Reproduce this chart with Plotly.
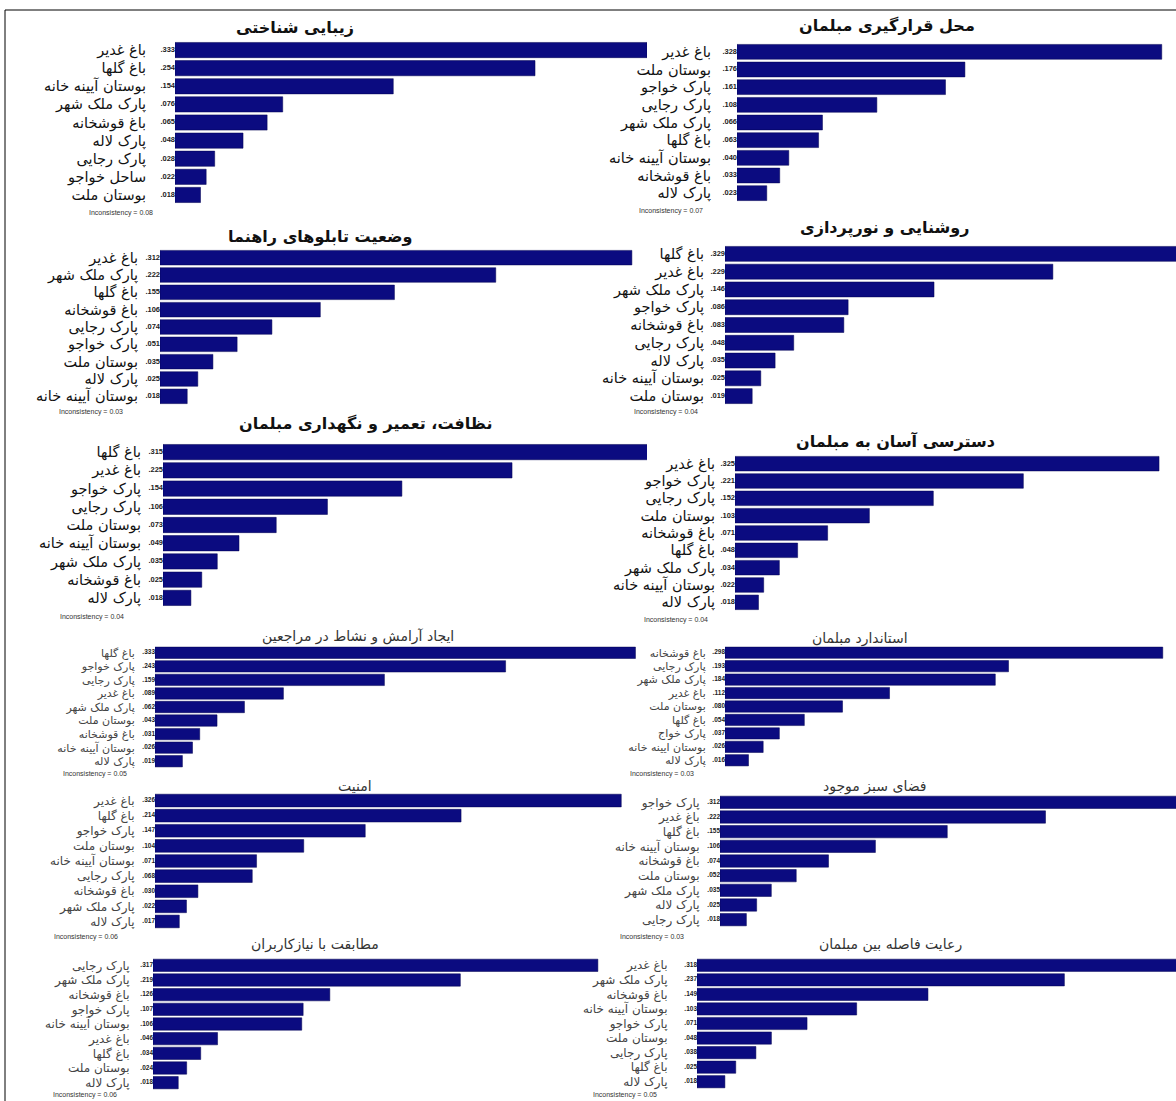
import plotly.graph_objects as go

W, H = 1176, 1101

titles = [
    "زیبایی شناختی", "محل قرارگیری مبلمان",
    "وضعیت تابلوهای راهنما", "روشنایی و نورپردازی",
    "نظافت، تعمیر و نگهداری مبلمان", "دسترسی آسان به مبلمان",
    "ایجاد آرامش و نشاط در مراجعین", "استاندارد مبلمان",
    "امنیت", "فضای سبز موجود",
    "مطابقت با نیازکاربران", "رعایت فاصله بین مبلمان",
]

cats_1 = ["باغ غدیر", "باغ گلها", "بوستان آیینه خانه", "پارک ملک شهر", "باغ قوشخانه", "پارک لاله", "پارک رجایی", "ساحل خواجو", "بوستان ملت"]
vals_1 = [0.333, 0.254, 0.154, 0.076, 0.065, 0.048, 0.028, 0.022, 0.018]

cats_2 = ["باغ غدیر", "بوستان ملت", "پارک خواجو", "پارک رجایی", "پارک ملک شهر", "باغ گلها", "بوستان آیینه خانه", "باغ قوشخانه", "پارک لاله"]
vals_2 = [0.328, 0.176, 0.161, 0.108, 0.066, 0.063, 0.040, 0.033, 0.023]

cats_3 = ["باغ غدیر", "پارک ملک شهر", "باغ گلها", "باغ قوشخانه", "پارک رجایی", "پارک خواجو", "بوستان ملت", "پارک لاله", "بوستان آیینه خانه"]
vals_3 = [0.312, 0.222, 0.155, 0.106, 0.074, 0.051, 0.035, 0.025, 0.018]

cats_4 = ["باغ گلها", "باغ غدیر", "پارک ملک شهر", "پارک خواجو", "باغ قوشخانه", "پارک رجایی", "پارک لاله", "بوستان آیینه خانه", "بوستان ملت"]
vals_4 = [0.329, 0.229, 0.146, 0.086, 0.083, 0.048, 0.035, 0.025, 0.019]

cats_5 = ["باغ گلها", "باغ غدیر", "پارک خواجو", "پارک رجایی", "بوستان ملت", "بوستان آیینه خانه", "پارک ملک شهر", "باغ قوشخانه", "پارک لاله"]
vals_5 = [0.315, 0.225, 0.154, 0.106, 0.073, 0.049, 0.035, 0.025, 0.018]

cats_6 = ["باغ غدیر", "پارک خواجو", "پارک رجایی", "بوستان ملت", "باغ قوشخانه", "باغ گلها", "پارک ملک شهر", "بوستان آیینه خانه", "پارک لاله"]
vals_6 = [0.325, 0.221, 0.152, 0.103, 0.071, 0.048, 0.034, 0.022, 0.018]

cats_7 = ["باغ گلها", "پارک خواجو", "پارک رجایی", "باغ غدیر", "پارک ملک شهر", "بوستان ملت", "باغ قوشخانه", "بوستان آیینه خانه", "پارک لاله"]
vals_7 = [0.333, 0.243, 0.159, 0.089, 0.062, 0.043, 0.031, 0.026, 0.019]

cats_8 = ["باغ قوشخانه", "پارک رجایی", "پارک ملک شهر", "باغ غدیر", "بوستان ملت", "باغ گلها", "پارک خواج", "بوستان ایینه خانه", "پارک لاله"]
vals_8 = [0.298, 0.193, 0.184, 0.112, 0.080, 0.054, 0.037, 0.026, 0.016]

cats_9 = ["باغ غدیر", "باغ گلها", "پارک خواجو", "بوستان ملت", "بوستان آیینه خانه", "پارک رجایی", "باغ قوشخانه", "پارک ملک شهر", "پارک لاله"]
vals_9 = [0.326, 0.214, 0.147, 0.104, 0.071, 0.068, 0.030, 0.022, 0.017]

cats_10 = ["پارک خواجو", "باغ غدیر", "باغ گلها", "بوستان آیینه خانه", "باغ قوشخانه", "بوستان ملت", "پارک ملک شهر", "پارک لاله", "پارک رجایی"]
vals_10 = [0.312, 0.222, 0.155, 0.106, 0.074, 0.052, 0.035, 0.025, 0.018]

cats_11 = ["پارک رجایی", "پارک ملک شهر", "باغ قوشخانه", "پارک خواجو", "بوستان آیینه خانه", "باغ غدیر", "باغ گلها", "بوستان ملت", "پارک لاله"]
vals_11 = [0.317, 0.219, 0.126, 0.107, 0.106, 0.046, 0.034, 0.024, 0.018]

cats_12 = ["باغ غدیر", "پارک ملک شهر", "باغ قوشخانه", "بوستان آیینه خانه", "پارک خواجو", "بوستان ملت", "پارک رجایی", "باغ گلها", "پارک لاله"]
vals_12 = [0.318, 0.237, 0.149, 0.103, 0.071, 0.048, 0.038, 0.025, 0.018]

inconsistency = [0.08, 0.07, 0.03, 0.04, 0.04, 0.04, 0.05, 0.03, 0.06, 0.03, 0.06, 0.05]

all_cats = [cats_1, cats_2, cats_3, cats_4, cats_5, cats_6, cats_7, cats_8, cats_9, cats_10, cats_11, cats_12]
all_vals = [vals_1, vals_2, vals_3, vals_4, vals_5, vals_6, vals_7, vals_8, vals_9, vals_10, vals_11, vals_12]

# layout geometry in pixels: x0, x1, y_top, y_bottom, x_max, title_x, title_y, inc_x, inc_y, label_gap, label_size
geom = [
    (175, 647, 41, 204, 0.333, 295, 27, 121, 213, 25, 14.5),
    (737, 1176, 43, 202, 0.339, 887, 25, 671, 211, 22, 14.5),
    (160, 647, 249, 405, 0.322, 320, 236, 91, 412, 18, 14.5),
    (725, 1176, 245, 405, 0.315, 885, 228, 666, 412, 17, 14.5),
    (163, 647, 443, 607, 0.312, 365, 423, 92, 617, 18, 14.5),
    (735, 1176, 455, 611, 0.338, 895, 441, 676, 620, 16, 14.5),
    (155, 647, 646, 768, 0.341, 358, 636, 95, 774, 17, 11),
    (725, 1176, 646, 767, 0.307, 860, 638, 662, 774, 16, 11),
    (155, 647, 793, 929, 0.344, 355, 786, 86, 937, 17, 12),
    (720, 1176, 795, 927, 0.311, 875, 786, 652, 937, 17, 12),
    (153, 647, 958, 1090, 0.352, 315, 944, 85, 1095, 20, 12),
    (697, 1176, 958, 1089, 0.309, 890, 944, 625, 1095, 26, 12),
]

BAR = "#0b0b80"
FONT = "DejaVu Sans"
NARROW = "Liberation Sans Narrow, Liberation Sans"

fig = go.Figure()
annotations = []
layout_axes = {}

for i, (cats, vals) in enumerate(zip(all_cats, all_vals)):
    x0, x1, yt, yb, xmax, tx, ty, ix, iy, gap, lsize = geom[i]
    big = i < 6
    n = i + 1
    xa = "x" if n == 1 else f"x{n}"
    ya = "y" if n == 1 else f"y{n}"
    fig.add_trace(go.Bar(
        x=vals, y=cats, orientation="h", xaxis=xa, yaxis=ya,
        marker=dict(color=BAR, line=dict(color="#000050", width=0.5)),
        showlegend=False, hoverinfo="x+y",
    ))
    fig.add_trace(go.Scatter(
        x=[0] * len(vals), y=cats, mode="text", xaxis=xa, yaxis=ya,
        text=["<b>%s</b>" % ("%.3f" % v).lstrip("0") for v in vals],
        textposition="middle left",
        textfont=dict(family=NARROW, size=7.5 if big else 6.5, color="#222"),
        cliponaxis=False, showlegend=False, hoverinfo="skip",
    ))
    xkey = "xaxis" if n == 1 else f"xaxis{n}"
    ykey = "yaxis" if n == 1 else f"yaxis{n}"
    layout_axes[xkey] = dict(
        domain=[x0 / W, x1 / W], range=[0, xmax], anchor=ya,
        visible=False, fixedrange=True,
    )
    layout_axes[ykey] = dict(
        domain=[1 - yb / H, 1 - yt / H], anchor=xa, autorange="reversed",
        showgrid=False, zeroline=False, showline=False,
        tickmode="array", tickvals=cats, ticktext=cats,
        ticks="outside", ticklen=gap, tickcolor="rgba(0,0,0,0)",
        tickfont=dict(family=FONT, size=lsize, color="#111" if big else "#444"),
        fixedrange=True,
    )
    annotations.append(dict(
        text=("<b>%s</b>" % titles[i]) if big else titles[i],
        x=tx / W, y=1 - ty / H, xref="paper", yref="paper",
        xanchor="center", yanchor="middle", showarrow=False,
        font=dict(family=FONT, size=16 if big else 14, color="#111" if big else "#333"),
    ))
    annotations.append(dict(
        text="Inconsistency = %.2f" % inconsistency[i],
        x=ix / W, y=1 - iy / H, xref="paper", yref="paper",
        xanchor="center", yanchor="middle", showarrow=False,
        font=dict(family=NARROW, size=7, color="#333"),
    ))

fig.update_layout(
    width=W, height=H, margin=dict(l=0, r=0, t=0, b=0),
    paper_bgcolor="white", plot_bgcolor="white",
    bargap=0.16, annotations=annotations,
    shapes=[dict(type="rect", xref="paper", yref="paper",
                 x0=5 / W, x1=1.02, y0=-0.02, y1=1 - 10 / H,
                 line=dict(color="black", width=1))],
    **layout_axes,
)

fig.write_html("out.html", config={"displayModeBar": False},
               post_script="document.body.style.margin='0';document.body.style.overflow='hidden';")
